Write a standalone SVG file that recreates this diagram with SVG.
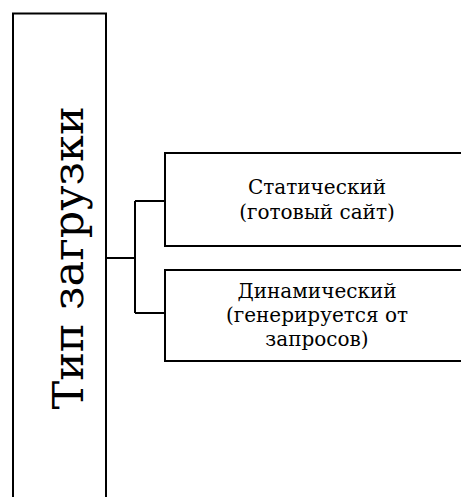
<svg xmlns="http://www.w3.org/2000/svg" width="461" height="497" viewBox="0 0 461 497">
<style>
.box{fill:#fff;stroke:#000;stroke-width:2}
.ln{fill:none;stroke:#000;stroke-width:2}
text{font-family:'DejaVu Serif','Liberation Serif',serif;fill:#000;text-anchor:middle}
.s{font-size:20px}
</style>
<rect width="461" height="497" fill="#fff"/>
<g id="main">
<rect class="box" x="13" y="13.5" width="93" height="490"/>
<text font-size="43" transform="translate(83,258) rotate(-90)">Тип загрузки</text>
</g>
<g id="connectors">
<path class="ln" d="M106,258 H135 M135,201 V313 M135,201 H165 M135,313 H165"/>
</g>
<g id="static">
<rect class="box" x="165" y="153" width="300" height="93"/>
<text class="s" x="317" y="194">Статический</text>
<text class="s" x="317" y="219">(готовый сайт)</text>
</g>
<g id="dynamic">
<rect class="box" x="165" y="270" width="300" height="91"/>
<text class="s" x="317" y="298">Динамический</text>
<text class="s" x="317" y="322">(генерируется от</text>
<text class="s" x="317" y="346">запросов)</text>
</g>
</svg>
